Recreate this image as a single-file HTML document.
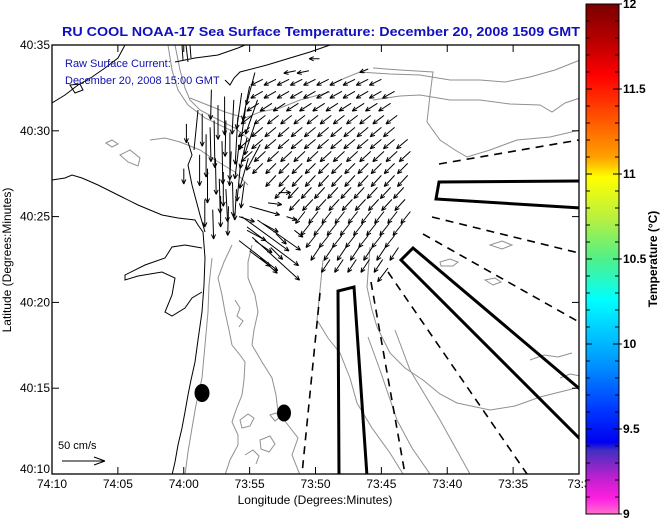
<!DOCTYPE html>
<html><head><meta charset="utf-8">
<style>
html,body{margin:0;padding:0;background:#fff;}
svg{display:block;font-family:"Liberation Sans",sans-serif;}
</style></head>
<body>
<svg id="chart" width="660" height="519" viewBox="0 0 660 519" xmlns="http://www.w3.org/2000/svg">
  <defs>
    <linearGradient id="cbar" x1="0" y1="0" x2="0" y2="1">
      <stop offset="0" stop-color="#7a0000"/>
      <stop offset="0.08" stop-color="#c00000"/>
      <stop offset="0.14" stop-color="#ff0000"/>
      <stop offset="0.23" stop-color="#ff5a00"/>
      <stop offset="0.30" stop-color="#ffa000"/>
      <stop offset="0.34" stop-color="#ffff00"/>
      <stop offset="0.42" stop-color="#b8f040"/>
      <stop offset="0.50" stop-color="#50f088"/>
      <stop offset="0.58" stop-color="#00ffff"/>
      <stop offset="0.70" stop-color="#0099ff"/>
      <stop offset="0.80" stop-color="#0033ff"/>
      <stop offset="0.86" stop-color="#0000f0"/>
      <stop offset="0.875" stop-color="#4030c0"/>
      <stop offset="0.93" stop-color="#c020d0"/>
      <stop offset="0.97" stop-color="#ff20e0"/>
      <stop offset="1" stop-color="#ff70d0"/>
    </linearGradient>
    <clipPath id="plotclip"><rect x="52" y="45" width="527" height="429"/></clipPath>
  </defs>

  <text x="62" y="36" font-size="13" font-weight="bold" fill="#1010c0" textLength="518" lengthAdjust="spacingAndGlyphs">RU COOL  NOAA-17  Sea Surface Temperature:  December 20, 2008 1509 GMT</text>

  <rect x="52" y="45" width="527" height="429" fill="#fff"/>

  <g id="basemap" clip-path="url(#plotclip)" fill="none">
    <g stroke="#909090" stroke-width="1">
      <path d="M212,258 L209,285 208,312 205,345 202,378 196,405 192,428 188,452 185,475"/>
      <path d="M232,245 L224,262 218,278 222,295 225,312 229,330 232,345 240,355 245,362 244,380 242,395 236,410 232,422 238,435 238,445 230,460 225,475"/>
      <path d="M252,245 L248,262 248,278 255,295 258,312 254,330 252,345 262,362 272,378 276,395 278,412 288,425 298,438 292,455 300,475"/>
      <path d="M323,260 L320,290 317,320 328,338 340,353 350,378 357,403 372,428 390,453 403,474"/>
      <path d="M370,247 L367,287 372,310 377,327 390,353 405,368 423,380 440,394 457,403 490,410 515,406 540,397 560,392 580,387"/>
      <path d="M368,337 L380,370 397,420 412,448 430,474"/>
      <path d="M395,330 L410,370 440,420 470,474"/>
      <path d="M330,85 L345,78 360,72 390,74 420,75 450,80 480,80 505,82 530,77 555,70 580,60"/>
      <path d="M373,100 L400,96 420,95 450,100 480,100 510,104 540,105 552,112 565,103 580,98"/>
      <path d="M373,68 L400,70 433,72 430,95 427,122 440,140 455,150 467,157 490,150 517,140 550,137 580,130"/>
      <path d="M330,92 L300,100 280,108 260,112 245,118 225,112 205,104 190,98"/>
      <path d="M175,45 L180,70 185,88 190,100 200,110 215,118 235,128 250,140"/>
      <path d="M168,45 L172,70 178,90 188,105 205,118 230,130"/>
      <path d="M150,140 L165,138 180,142 200,150 215,160 235,172 248,185"/>
      <path d="M120,155 L130,150 140,158 138,166 128,162 Z"/>
      <path d="M106,143 L112,140 118,144 112,147 Z"/>
      <path d="M235,300 l5,8 -3,8 6,5 -4,6"/>
      <path d="M240,420 l8,-6 6,4 -4,8 -8,2 Z"/>
      <path d="M260,440 l10,-4 5,8 -6,8 -8,-3 Z"/>
      <path d="M270,415 l6,-2 4,4 -5,4 Z"/>
      <path d="M245,455 l8,-5 6,6 -3,8"/>
      <path d="M440,262 l10,-3 8,3 -5,4 -12,0 Z"/>
      <path d="M485,280 l10,-2 6,4 -8,3 Z"/>
      <path d="M490,245 l12,-4 10,4 -10,4 Z"/>
      <path d="M530,360 l14,-5 14,2 14,-4"/>
      <path d="M560,378 l10,-4 10,2"/>
    </g>
    <g stroke="#000" stroke-width="1">
      <path d="M52,103 L65,95 78,85 92,77 105,68 118,58 125,45"/>
      <path d="M70,85 L80,84 83,90 75,93 Z"/>
      <path d="M175,62 L195,58 218,55 238,48 245,45"/>
      <path d="M225,80 L230,85 234,78 240,72 267,65 290,58 310,52 330,45"/>
      <path d="M52,180 L65,178 72,175 82,178 98,185 122,197 138,205 162,215 178,218 195,220 198,225 203,232 205,258 204,285 202,312 198,340 195,362 191,380 188,395 185,412 182,428 178,445 175,462 172,475"/>
      <path d="M202,248 L185,245 172,247 165,258 145,265 125,275 125,280 138,276 162,272 175,278 172,295 165,312 172,316 185,308 192,298 202,292"/>
      <path d="M205,232 L200,215 196,200 192,185 188,165 192,155 188,142"/>
      <path d="M198,110 L196,130 194,150"/>
      <path d="M182,45 L183,60 M186,45 L188,62 M190,45 L191,58"/>
    </g>
    <ellipse cx="202" cy="393" rx="7.5" ry="9" fill="#000"/>
    <ellipse cx="284" cy="413" rx="7" ry="8.5" fill="#000"/>

    <g stroke="#000">
      <g stroke-width="1.6" stroke-dasharray="8,6">
        <path d="M439,164 L579,140"/>
        <path d="M432,217 L579,253"/>
        <path d="M423,234 L579,322"/>
        <path d="M388,272 L527,474"/>
        <path d="M371,282 L405,474"/>
        <path d="M320,293 L302,474"/>
      </g>
      <g stroke-width="3" fill="none" stroke-linejoin="miter">
        <path d="M581,181 L439,182 L436,199 L581,208"/>
        <path d="M581,390 L413,248 L401,260 L581,440"/>
        <path d="M339,476 L338,291 L354,287 L367,476"/>
      </g>
    </g>
    <g id="arrows" stroke="#000" stroke-width="1" fill="none"></g>
  </g>

  <rect x="52" y="45" width="527" height="429" fill="none" stroke="#000" stroke-width="1.3"/>
  <g id="ticks" stroke="#000" stroke-width="1"></g>
  <g id="xlabels" font-size="12" text-anchor="middle"></g>
  <g id="ylabels" font-size="12" text-anchor="end"></g>
  <text x="315" y="504" font-size="12" text-anchor="middle">Longitude (Degrees:Minutes)</text>
  <text x="0" y="0" font-size="12" text-anchor="middle" transform="translate(11,260) rotate(-90)">Latitude (Degrees:Minutes)</text>

  <text x="65" y="67" font-size="11" fill="#1010b0">Raw Surface Current:</text>
  <text x="65" y="84" font-size="11" fill="#1010b0">December 20, 2008 15:00 GMT</text>
  <text x="58" y="449" font-size="11">50 cm/s</text>
  <g stroke="#000" stroke-width="1" fill="none">
    <path d="M62,461 L105,461 M105,461 L94,457 M105,461 L94,465"/>
  </g>

  <rect x="586" y="4" width="33" height="510" fill="url(#cbar)" stroke="#000" stroke-width="1"/>
  <g id="cbticks" stroke="#000" stroke-width="1"></g>
  <g id="cblabels" font-size="12" font-weight="bold"></g>
  <text x="0" y="0" font-size="12" font-weight="bold" text-anchor="middle" transform="translate(657,259) rotate(-90)">Temperature (°C)</text>
</svg>
<script>
// ---- axis data ----
const xTickLabels = ["74:10","74:05","74:00","73:55","73:50","73:45","73:40","73:35","73:3"];
const xTickLon = [70,65,60,55,50,45,40,35,30];      // minutes west of 73:00
const yTickLabels = ["40:35","40:30","40:25","40:20","40:15","40:10"];
const yTickLat = [35,30,25,20,15,10];               // minutes north of 40:00
const cbTickValues = [12,11.5,11,10.5,10,9.5,9];
const cbTickLabels = ["12","11.5","11","10.5","10","9.5","9"];

// ---- current field rows (lat in minutes N of 40:00, lon in minutes W of 73:00, u/v in cm/s) ----
const rowLat      = [33.5,33.0,32.3,31.6,30.9,30.2,29.5,28.8,28.1,27.4,26.7,26.0,25.3,24.6,23.9,23.2,22.5];
const rowLonStart = [51.5,54.0,54.0,54.3,54.8,55.0,55.0,54.8,54.0,53.0,52.3,51.2,50.8,50.4,50.0,49.7,48.9];
const rowLonEnd   = [49.7,44.5,44.0,44.0,43.6,43.2,43.0,42.8,42.7,42.5,42.8,42.8,42.8,42.8,43.2,43.6,44.0];
const rowU        = [-14,-14,-14,-14,-13,-13,-13,-13,-12,-12,-12,-12,-11,-11,-11,-10,-10];
const rowV        = [-3,-7,-8,-9,-10,-11,-11,-12,-12,-13,-13,-13,-14,-14,-14,-15,-15];

// ---- individual vectors (southward jet + southeastward cluster) ----
const vecLon = [58.6,58.0,57.4,56.8,56.2,55.6,55.0,54.6, 58.8,58.2,57.6,57.0,56.4,55.8,55.2,54.6, 58.4,57.8,57.2,56.6,56.0,55.4, 59.8,60.0,
                55.8,55.2,54.6,54.0,53.4,55.0,54.2,53.6,52.8,52.2,51.6,53.0, 49.7,46.0,44.5,
                58.3,57.7,57.1,56.5,55.9,55.3,56.9,57.9,56.3,56.8,57.3,55.7,55.1,54.4,54.2,
                55.6,55.2,54.8,55.8,54.4,55.0];
const vecLat = [31.0,30.2,31.5,30.6,31.8,32.2,32.6,33.4, 28.6,27.8,28.4,27.6,28.8,29.2,29.6,30.4, 26.0,25.4,26.2,25.6,26.6,27.0, 30.4,27.8,
                25.0,24.2,23.6,24.6,23.2,23.0,22.6,25.8,26.4,25.0,24.2,24.0, 34.2,33.6,22.0,
                29.8,30.6,29.4,29.9,30.8,31.4,32.0,32.4,27.0,26.6,27.2,28.0,28.4,31.8,29.2,
                25.0,24.4,23.8,23.6,24.8,25.6];
const vecU   = [0,1,0,-1,-2,-6,-8,-10, 0,0,1,0,-2,-5,-8,-12, 0,1,0,-1,-2,-4, 0,0,
                18,22,20,18,14,24,20,16,14,12,10,12, -12,-10,-12,
                0,1,1,0,-3,-7,0,-1,1,2,1,-4,-10,-14,-16,
                55,60,55,45,50,35];
const vecV   = [-38,-40,-40,-42,-40,-42,-40,-38, -36,-40,-42,-40,-40,-40,-36,-36, -32,-34,-36,-34,-36,-30, -22,-18,
                -6,-12,-14,-10,-14,-18,-18,-2,0,-4,-8,-12, 0,-4,-16,
                -50,-55,-50,-55,-55,-50,-45,-35,-40,-38,-40,-42,-35,-40,-30,
                -40,-45,-50,-35,-35,-10];

// ---- axis functions ----
const X = lon => 52 + (70 - lon) * 13.175;
const Y = lat => 474 - (lat - 10) * 17.16;
const CBY = t => 4 + (12 - t) * 170;
const PX_PER_CMS = 0.86;
const NS = "http://www.w3.org/2000/svg";

function drawArrow(lon, lat, u, v) {
  const g = document.getElementById("arrows");
  const x0 = X(lon), y0 = Y(lat);
  const x1 = x0 + u * PX_PER_CMS, y1 = y0 - v * PX_PER_CMS;
  const ang = Math.atan2(y1 - y0, x1 - x0);
  const h = 5, a = 0.42;
  const p = document.createElementNS(NS, "path");
  p.setAttribute("d", `M${x0.toFixed(1)},${y0.toFixed(1)} L${x1.toFixed(1)},${y1.toFixed(1)} M${x1.toFixed(1)},${y1.toFixed(1)} L${(x1 - h*Math.cos(ang-a)).toFixed(1)},${(y1 - h*Math.sin(ang-a)).toFixed(1)} M${x1.toFixed(1)},${y1.toFixed(1)} L${(x1 - h*Math.cos(ang+a)).toFixed(1)},${(y1 - h*Math.sin(ang+a)).toFixed(1)}`);
  
  
  g.appendChild(p);
}

for (let r = 0; r < rowLat.length; r++) {
  for (let lon = rowLonStart[r]; lon >= rowLonEnd[r] - 0.01; lon -= 1.0) {
    drawArrow(lon, rowLat[r], rowU[r], rowV[r]);
  }
}
for (let i = 0; i < vecLon.length; i++) drawArrow(vecLon[i], vecLat[i], vecU[i], vecV[i]);

// ---- ticks & labels ----
const tg = document.getElementById("ticks");
function line(parent, x1, y1, x2, y2, name) {
  const l = document.createElementNS(NS, "line");
  l.setAttribute("x1", x1); l.setAttribute("y1", y1); l.setAttribute("x2", x2); l.setAttribute("y2", y2);
  
  
  parent.appendChild(l);
}
function text(parent, x, y, s, name) {
  const t = document.createElementNS(NS, "text");
  t.setAttribute("x", x); t.setAttribute("y", y); t.textContent = s;
  
  
  parent.appendChild(t);
}
xTickLon.forEach((lon, i) => {
  const x = X(lon);
  line(tg, x, 474, x, 467, "x-tick");
  line(tg, x, 45, x, 52, "x-tick-top");
  text(document.getElementById("xlabels"), x, 488, xTickLabels[i], "x-tick-label");
});
yTickLat.forEach((lat, i) => {
  const y = Y(lat);
  line(tg, 52, y, 59, y, "y-tick");
  line(tg, 579, y, 572, y, "y-tick-right");
  text(document.getElementById("ylabels"), 50, y + (i === yTickLat.length - 1 ? -1 : 4), yTickLabels[i], "y-tick-label");
});
const cg = document.getElementById("cbticks");
for (let k = 0; k <= 30; k++) {
  const y = CBY(12 - k * 0.1);
  const major = k % 5 === 0;
  line(cg, 586, y, major ? 592 : 590, y, "colorbar-minor-tick");
  line(cg, 619, y, major ? 613 : 615, y, "colorbar-minor-tick");
}
cbTickValues.forEach((v, i) => {
  const y = CBY(v);
  line(cg, 619, y, 622, y, "colorbar-major-tick");
  text(document.getElementById("cblabels"), 623, y + 4, cbTickLabels[i], "colorbar-tick-label");
});
</script>
</body></html>
